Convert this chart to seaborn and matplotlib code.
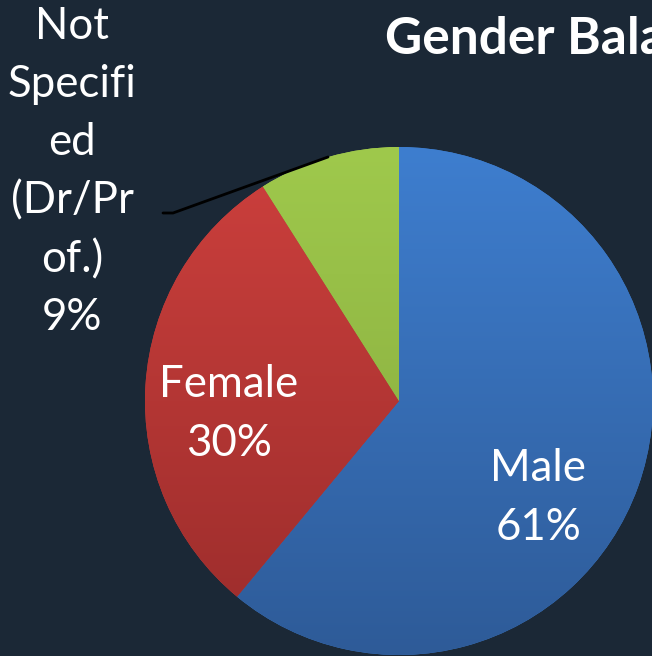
import numpy as np
import matplotlib
matplotlib.use("Agg")
import matplotlib.pyplot as plt
import seaborn as sns

# data
labels = ["Male", "Female", "Not\nSpecifi\ned\n(Dr/Pr\nof.)"]
shares = [61, 30, 9]
top_colors = ["#3e7ecf", "#cd403d", "#9fc94c"]
bottom_colors = ["#2e5b98", "#9a2c2b", "#83a53c"]

sns.set_theme(style="dark", rc={"figure.facecolor": "#1b2836", "axes.facecolor": "#1b2836"})
plt.rcParams["font.family"] = ["Lato", "DejaVu Sans"]

W, H = 652, 656
fig = plt.figure(figsize=(W / 100, H / 100), dpi=100)
ax = fig.add_axes([0, 0, 1, 1])

# pie in pixel coordinates (y flipped so 0 is bottom)
cx, cy, r = 399, H - 401, 254
wedges, _ = ax.pie(shares, startangle=90, counterclock=False,
                   center=(cx, cy), radius=r, colors=top_colors,
                   wedgeprops=dict(linewidth=0))

# vertical gradient per wedge, clipped to the wedge shape
grad = np.linspace(0, 1, 256).reshape(-1, 1)
for w, c0, c1 in zip(wedges, top_colors, bottom_colors):
    cmap = sns.blend_palette([c0, c1], as_cmap=True)
    im = ax.imshow(grad, cmap=cmap, aspect="auto",
                   extent=(cx - r, cx + r, cy - r, cy + r), origin="upper", zorder=2)
    im.set_clip_path(w)

ax.set_xlim(0, W)
ax.set_ylim(0, H)
ax.set_aspect("auto")
ax.axis("off")

lbl = dict(color="white", fontsize=31.5, ha="center", linespacing=1.52, zorder=5)
ax.text(538, H - 498, f"{labels[0]}\n{shares[0]}%", va="center", **lbl)
ax.text(229, H - 414, f"{labels[1]}\n{shares[1]}%", va="center", **lbl)
ax.text(72, H - 172, f"{labels[2]}\n{shares[2]}%", va="center", **lbl)

# leader line for the small slice
ax.plot([163, 173, 328], [H - 213, H - 213, H - 157], color="black", lw=2, zorder=4)

# title runs off the right edge, as in the reference
ax.text(385, H - 40, "Gender Balance", color="white", fontsize=37,
        fontweight="bold", ha="left", va="center")

fig.savefig("out.png", dpi=100, facecolor=fig.get_facecolor())
